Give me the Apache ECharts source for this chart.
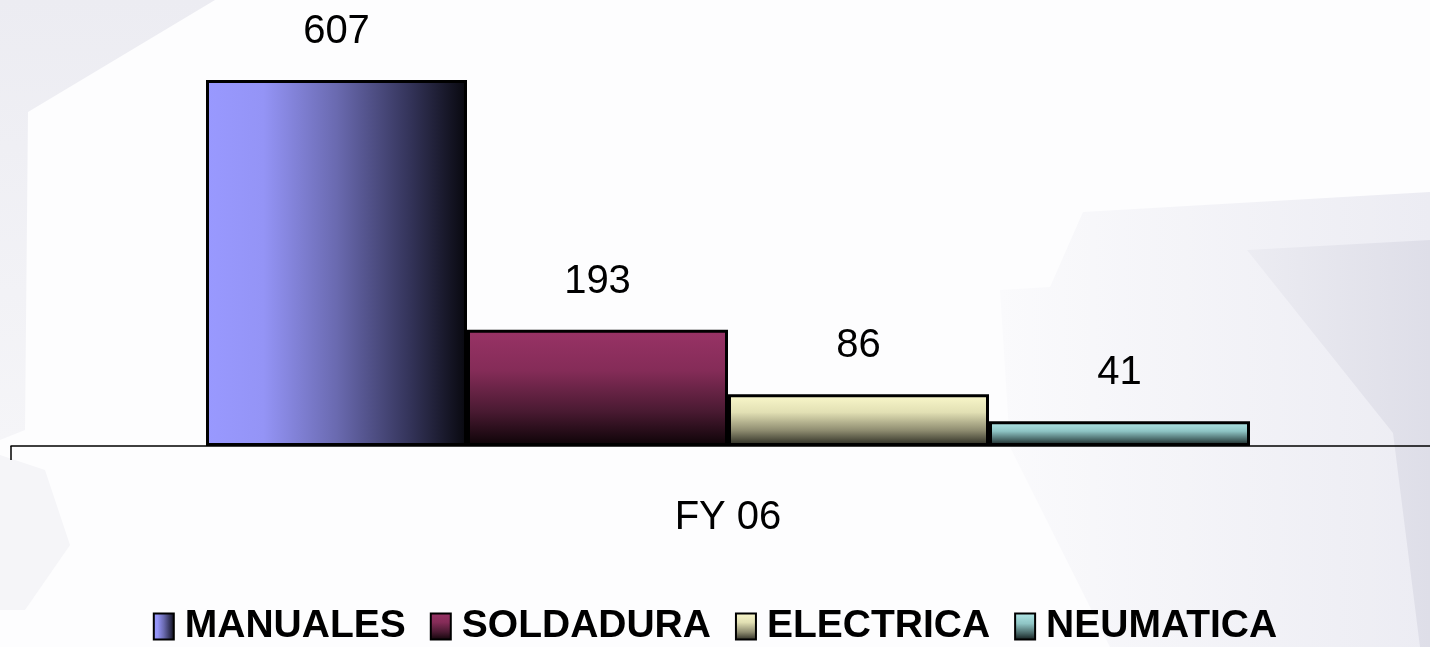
<!DOCTYPE html>
<html>
<head>
<meta charset="utf-8">
<script src="https://cdn.jsdelivr.net/npm/echarts@6/dist/echarts.min.js"></script>
<style>
  html, body { margin: 0; padding: 0; background: #fdfdfe; }
  #chart { width: 1430px; height: 647px; }
</style>
</head>
<body>
<div id="chart"></div>
<script>
// data
const categories = ['FY 06'];
const seriesNames = ['MANUALES', 'SOLDADURA', 'ELECTRICA', 'NEUMATICA'];
const manuales = [607];
const soldadura = [193];
const electrica = [86];
const neumatica = [41];

const FONT = '"Liberation Sans", Arial, sans-serif';

const lin = (x2, y2, stops) => new echarts.graphic.LinearGradient(0, 0, x2, y2,
  stops.map(s => ({ offset: s[0], color: s[1] })));

const fills = [
  lin(1, 0, [[0, '#9999ff'], [0.22, '#9494f6'], [0.5, '#6a6ab0'], [0.78, '#34345a'], [1, '#08080e']]),
  lin(0, 1, [[0, '#993366'], [0.35, '#852c58'], [0.7, '#4a1a32'], [1, '#0c0306']]),
  lin(0, 1, [[0, '#fbf9cc'], [0.35, '#e2e0b4'], [0.7, '#8e8c70'], [1, '#26261e']]),
  lin(0, 1, [[0, '#b4eaea'], [0.4, '#8ec4c4'], [0.75, '#466464'], [1, '#0e1616']])
];

const values = [manuales, soldadura, electrica, neumatica];

const chart = echarts.init(document.getElementById('chart'));

chart.setOption({
  backgroundColor: '#fdfdfe',
  animation: false,
  // faint background shapes of the slide
  graphic: [
    { type: 'polygon', z: -10, silent: true,
      shape: { points: [[0, 0], [215, 0], [28, 112], [25, 430], [0, 440]] },
      style: { fill: lin(0, 1, [[0, '#ececf2'], [1, '#f5f5f8']]) } },
    { type: 'polygon', z: -10, silent: true,
      shape: { points: [[0, 455], [45, 470], [70, 545], [25, 610], [0, 610]] },
      style: { fill: '#f5f5f8' } },
    { type: 'polygon', z: -10, silent: true,
      shape: { points: [[1083, 212], [1430, 192], [1430, 647], [1110, 647], [1010, 447], [1000, 290], [1050, 287]] },
      style: { fill: lin(1, 0, [[0, '#fafafc'], [1, '#ececf3']]) } },
    { type: 'polygon', z: -9, silent: true,
      shape: { points: [[1247, 250], [1430, 240], [1430, 647], [1420, 647], [1393, 433]] },
      style: { fill: lin(1, 0, [[0, '#ececf2'], [1, '#dedee8']]) } }
  ],
  grid: { left: 11, right: -15, top: 24, bottom: 201, containLabel: false, outerBoundsMode: 'none' },
  legend: {
    data: seriesNames,
    top: 602,
    left: 'center',
    icon: 'rect',
    itemWidth: 20,
    itemHeight: 26,
    itemGap: 24,
    textStyle: { fontFamily: FONT, fontSize: 39, fontWeight: 'bold', color: '#000', padding: [0, 0, 0, 6] }
  },
  xAxis: {
    type: 'category',
    data: categories,
    axisLine: { lineStyle: { color: '#000', width: 1.5 } },
    axisTick: { show: true, length: 14, lineStyle: { color: '#000', width: 1.5 } },
    axisLabel: { fontFamily: FONT, fontSize: 40, color: '#000', margin: 52 }
  },
  yAxis: {
    type: 'value',
    min: 0,
    max: 700,
    show: false
  },
  series: seriesNames.map((name, i) => ({
    name: name,
    type: 'bar',
    data: values[i],
    barWidth: 261,
    barGap: '0%',
    itemStyle: { color: fills[i], borderColor: '#000', borderWidth: 3 },
    label: {
      show: true,
      position: 'top',
      distance: 28,
      fontFamily: FONT,
      fontSize: 40,
      color: '#000'
    }
  }))
});
</script>
</body>
</html>
